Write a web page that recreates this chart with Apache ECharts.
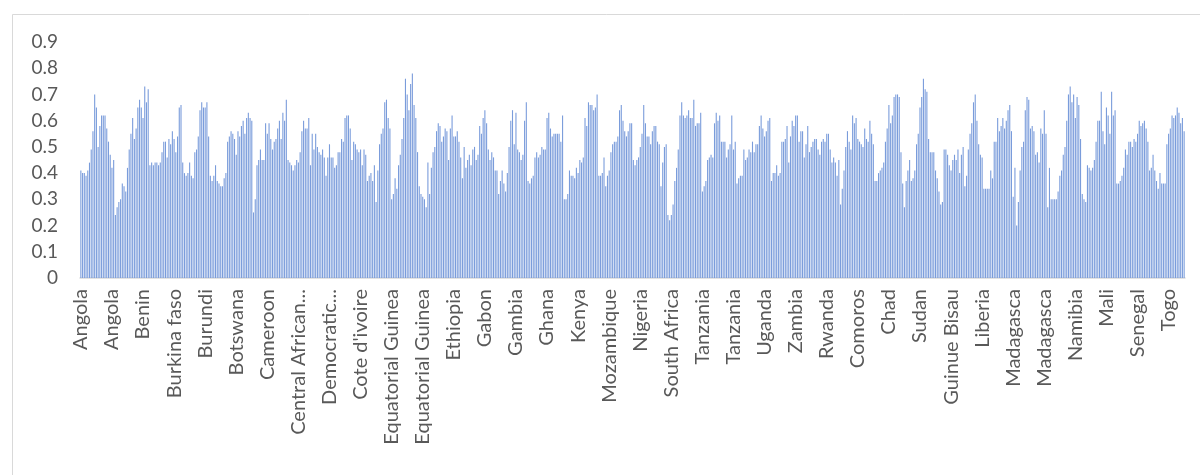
<!DOCTYPE html>
<html>
<head>
<meta charset="utf-8">
<script src="https://cdn.jsdelivr.net/npm/echarts@6/dist/echarts.min.js"></script>
<style>
html,body{margin:0;padding:0;background:#fff;}
#chart{width:1200px;height:475px;}
</style>
</head>
<body>
<div id="chart"></div>
<script>
// Countries of the panel (20 yearly observations each), as labelled in the reference
const countries = ["Angola","Benin","Burkina faso","Burundi","Botswana","Cameroon","Central African...","Democratic...","Cote d'ivoire","Equatorial Guinea","Ethiopia","Gabon","Gambia","Ghana","Kenya","Mozambique","Nigeria","South Africa","Tanzania","Uganda","Zambia","Rwanda","Comoros","Chad","Sudan","Guinue Bisau","Liberia","Madagasca","Namibia","Mali","Senegal","Togo"];
const yearsPerCountry = 20;
const labelStep = 18; // the axis shows every 18th category name

// Series values (left, middle and right thirds)
const valuesA = [0.41,0.40,0.40,0.39,0.41,0.44,0.49,0.56,0.70,0.65,0.50,0.58,0.62,0.62,0.62,0.57,0.52,0.47,0.42,0.45,0.24,0.27,0.29,0.30,0.36,0.35,0.33,0.42,0.49,0.55,0.61,0.53,0.57,0.65,0.68,0.65,0.61,0.73,0.67,0.72,
0.43,0.44,0.43,0.44,0.44,0.43,0.44,0.48,0.52,0.52,0.46,0.53,0.51,0.56,0.53,0.48,0.54,0.65,0.66,0.44,0.40,0.39,0.40,0.44,0.39,0.38,0.48,0.49,0.54,0.64,0.67,0.65,0.65,0.67,0.54,0.39,0.37,0.39,0.43,0.37,0.36,0.35,0.35,0.38,0.40,0.52,0.54,0.56,0.55,0.53,0.47,0.56,0.54,0.58,0.60,0.55,0.61,0.63,0.61,0.60,0.25,0.30,0.43,0.45,0.49,0.45,0.45,0.59,0.55,0.59,0.53,0.49,0.52,0.53,0.57,0.60,0.53,0.63,0.60,0.68,0.45,0.44,0.43,0.41,0.43,0.45,0.44,0.48,0.56,0.60,0.57,0.57,0.61,0.43,0.55,0.49,0.55,0.50,0.48,0.47,0.49,0.46,0.39,0.46,0.51,0.46,0.46,0.42,0.43,0.48,0.48,0.53,0.52,0.61,0.62,0.62,0.57,0.45,0.52,0.51,0.49,0.48,0.49,0.43,0.49,0.47,0.37,0.39,0.40,0.37,0.43,0.29,0.41,0.51,0.55,0.57,0.67,0.68,0.61,0.57,0.30,0.32,0.38,0.34,0.43,0.47,0.53,0.61,0.76,0.70,0.64,0.74,0.78,0.66,0.61,0.48,0.35,0.32,0.31,0.30,0.27,0.44,0.32,0.42,0.48,0.50,0.56,0.59,0.58,0.52,0.54,0.57,0.56,0.45];
const valuesB = [0.57,0.62,0.54,0.54,0.56,0.52,0.46,0.38,0.50,0.42,0.45,0.47,0.43,0.49,0.50,0.45,0.47,0.58,0.55,0.61,0.64,0.59,0.49,0.45,0.48,0.46,0.41,0.41,0.32,0.37,0.41,0.36,0.33,0.40,0.50,0.60,0.64,0.51,0.63,0.49,0.48,0.45,0.47,0.60,0.67,0.37,0.36,0.38,0.39,0.46,0.48,0.46,0.47,0.50,0.49,0.49,0.61,0.63,0.57,0.54,0.55,0.55,0.55,0.55,0.52,0.62,0.30,0.30,0.32,0.41,0.39,0.39,0.38,0.42,0.40,0.45,0.44,0.46,0.61,0.58,0.67,0.66,0.66,0.64,0.65,0.70,0.39,0.39,0.40,0.46,0.35,0.39,0.41,0.48,0.51,0.52,0.52,0.54,0.64,0.66,0.60,0.56,0.54,0.56,0.59,0.59,0.45,0.43,0.45,0.46,0.50,0.55,0.66,0.59,0.54,0.54,0.51,0.56,0.58,0.58,0.52,0.51,0.35,0.44,0.50,0.51,0.24,0.22,0.24,0.28,0.37,0.42,0.49,0.62,0.67,0.62,0.61,0.62,0.64,0.61,0.61,0.68,0.58,0.59,0.59,0.63,0.33,0.35,0.37,0.45,0.46,0.47,0.46,0.59,0.63,0.60,0.62,0.52,0.52,0.52,0.46,0.49,0.51,0.62,0.49,0.52,0.36,0.38,0.39,0.39,0.49,0.45,0.46,0.49,0.48,0.52,0.48,0.51,0.51,0.58,0.62,0.57,0.54,0.56,0.60,0.61,0.37,0.40,0.40,0.43,0.39,0.40,0.52,0.52,0.53,0.58,0.44,0.54,0.60,0.58,0.62,0.62,0.52,0.56,0.56,0.46,0.51,0.58,0.48,0.50,0.52,0.53,0.53,0.49,0.47];
const valuesC = [0.52,0.53,0.52,0.55,0.55,0.49,0.44,0.46,0.44,0.39,0.45,0.28,0.34,0.41,0.50,0.56,0.52,0.49,0.62,0.59,0.61,0.53,0.52,0.51,0.50,0.57,0.53,0.52,0.60,0.55,0.51,0.37,0.37,0.40,0.41,0.42,0.44,0.52,0.57,0.66,0.59,0.62,0.69,0.70,0.70,0.69,0.48,0.36,0.27,0.37,0.41,0.45,0.37,0.38,0.41,0.51,0.55,0.65,0.69,0.76,0.72,0.71,0.53,0.48,0.48,0.48,0.41,0.38,0.33,0.28,0.29,0.49,0.49,0.47,0.43,0.41,0.45,0.47,0.45,0.49,0.40,0.47,0.50,0.35,0.39,0.49,0.55,0.59,0.67,0.70,0.60,0.51,0.47,0.46,0.34,0.34,0.34,0.34,0.41,0.38,0.52,0.52,0.61,0.56,0.58,0.61,0.57,0.60,0.64,0.66,0.56,0.31,0.42,0.20,0.29,0.41,0.50,0.52,0.64,0.69,0.68,0.57,0.58,0.56,0.47,0.48,0.44,0.57,0.55,0.64,0.55,0.27,0.42,0.30,0.30,0.30,0.30,0.33,0.39,0.41,0.47,0.50,0.60,0.70,0.73,0.67,0.70,0.61,0.69,0.66,0.53,0.32,0.30,0.29,0.43,0.42,0.41,0.42,0.45,0.52,0.60,0.60,0.71,0.56,0.51,0.65,0.62,0.55,0.71,0.62,0.64,0.36,0.36,0.37,0.39,0.42,0.49,0.47,0.52,0.52,0.50,0.53,0.52,0.55,0.60,0.58,0.59,0.60,0.57,0.52,0.41,0.42,0.47,0.41,0.37,0.34,0.40,0.36,0.36,0.36,0.51,0.55,0.57,0.62,0.61,0.62,0.65,0.63,0.59,0.61,0.56];

const values = valuesA.concat(valuesB, valuesC);
const categories = values.map((v, i) => countries[Math.min(Math.floor(i / yearsPerCountry), countries.length - 1)] + '|' + (i % yearsPerCountry));

const chart = echarts.init(document.getElementById('chart'), null, {renderer: 'canvas'});
const font = 'Lato, "Liberation Sans", sans-serif';
chart.setOption({
  animation: false,
  backgroundColor: '#ffffff',
  graphic: [{
    type: 'rect', left: 10, top: 12,
    shape: {width: 1200, height: 480},
    style: {fill: 'none', stroke: '#d9d9d9', lineWidth: 1}
  }],
  grid: {left: 80, right: 15, top: 42, bottom: 197, containLabel: false},
  xAxis: {
    type: 'category',
    data: categories,
    axisLine: {show: true, lineStyle: {color: '#d9d9d9', width: 1.5}},
    axisTick: {show: false},
    axisLabel: {
      interval: labelStep - 1,
      rotate: 90,
      margin: 11,
      color: '#595959',
      fontSize: 20,
      fontFamily: font,
      formatter: v => v.split('|')[0]
    },
    splitLine: {show: false}
  },
  yAxis: {
    type: 'value',
    min: 0, max: 0.9, interval: 0.1,
    axisLine: {show: false},
    axisTick: {show: false},
    splitLine: {show: false},
    axisLabel: {
      color: '#595959', fontSize: 19, fontFamily: font, margin: 22,
      formatter: v => (Math.round(v * 10) / 10).toString()
    }
  },
  series: [{
    type: 'bar',
    data: values,
    barWidth: 1.1,
    itemStyle: {color: '#7a9cdb'},
    silent: true
  }]
});
</script>
</body>
</html>
